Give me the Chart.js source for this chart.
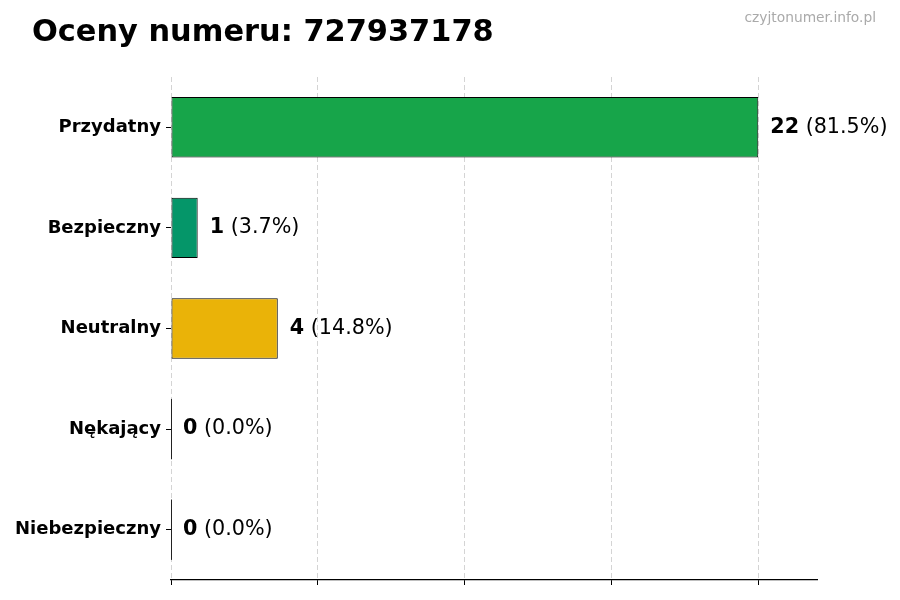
<!DOCTYPE html>
<html>
<head>
<meta charset="utf-8">
<script src="https://cdn.jsdelivr.net/npm/chart.js@4"></script>
<style>
  html, body { margin: 0; padding: 0; background: #fff; }
  #box { width: 900px; height: 600px; }
</style>
</head>
<body>
<div id="box"><canvas id="wykres"></canvas></div>
<script>
const kategorie = ['Przydatny', 'Bezpieczny', 'Neutralny', 'Nękający', 'Niebezpieczny'];
const liczby = [22, 1, 4, 0, 0];
const procenty = ['81.5%', '3.7%', '14.8%', '0.0%', '0.0%'];
const kolory = ['#17a54a', '#059669', '#eab308', '#dc2626', '#991b1b'];
const xTicks = [0, 5.5, 11, 16.5, 22];
const xMax = 24.2;

const tytul = 'Oceny numeru: 727937178';
const znak = 'czyjtonumer.info.pl';

// napisy przy slupkach, tytul i znak wodny
const napisy = {
    id: 'napisy',
    afterDraw(chart) {
        const ctx = chart.ctx;
        ctx.save();
        ctx.fillStyle = '#000';
        ctx.textBaseline = 'alphabetic';
        ctx.textAlign = 'left';
        ctx.font = 'bold 30.4px "DejaVu Sans"';
        ctx.fillText(tytul, 32, 41);
        ctx.fillStyle = '#aaaaaa';
        ctx.textAlign = 'right';
        ctx.font = '13.8px "DejaVu Sans"';
        ctx.fillText(znak, 876, 22);

        const meta = chart.getDatasetMeta(0);
        ctx.textBaseline = 'middle';
        ctx.textAlign = 'left';
        meta.data.forEach(function (bar, i) {
            if (Math.abs(bar.x - bar.base) < 1) {
                ctx.strokeStyle = '#222';
                ctx.lineWidth = 1;
                ctx.beginPath();
                ctx.moveTo(bar.base + 0.5, bar.y - bar.height / 2);
                ctx.lineTo(bar.base + 0.5, bar.y + bar.height / 2);
                ctx.stroke();
            }
            let x = bar.x + 12;
            ctx.fillStyle = '#000';
            ctx.font = 'bold 20.7px "DejaVu Sans"';
            const liczba = String(liczby[i]);
            ctx.fillText(liczba, x, bar.y);
            x += ctx.measureText(liczba).width;
            ctx.font = '20.7px "DejaVu Sans"';
            ctx.fillText(' (' + procenty[i] + ')', x, bar.y);
        });
        ctx.restore();
    }
};

new Chart(document.getElementById('wykres'), {
    type: 'bar',
    data: {
        labels: kategorie,
        datasets: [{
            data: liczby,
            backgroundColor: kolory,
            borderColor: '#000',
            borderWidth: 1,
            borderSkipped: false,
            barPercentage: 0.6,
            categoryPercentage: 1.0
        }]
    },
    options: {
        indexAxis: 'y',
        responsive: true,
        maintainAspectRatio: false,
        animation: false,
        layout: { padding: { top: 77, right: 83, left: 0, bottom: 0 } },
        plugins: {
            legend: { display: false },
            tooltip: { enabled: false }
        },
        scales: {
            x: {
                min: 0,
                max: xMax,
                z: 1,
                afterBuildTicks(scale) {
                    scale.ticks = xTicks.map(function (v) { return { value: v }; });
                },
                afterFit(scale) { scale.height = 20; },
                ticks: { display: false },
                grid: {
                    color: 'rgba(170,170,170,0.5)',
                    tickColor: '#000',
                    tickLength: 5,
                    tickBorderDash: [],
                    lineWidth: 1
                },
                border: { display: true, color: '#000', width: 1.2, dash: [5, 3] }
            },
            y: {
                afterFit(scale) { scale.width = 171; },
                grid: {
                    display: true,
                    offset: false,
                    drawOnChartArea: false,
                    tickColor: '#000',
                    tickLength: 5
                },
                border: { display: false },
                ticks: {
                    color: '#000',
                    padding: 5,
                    font: { family: 'DejaVu Sans', size: 18, weight: 'bold' }
                }
            }
        }
    },
    plugins: [napisy]
});
</script>
</body>
</html>
